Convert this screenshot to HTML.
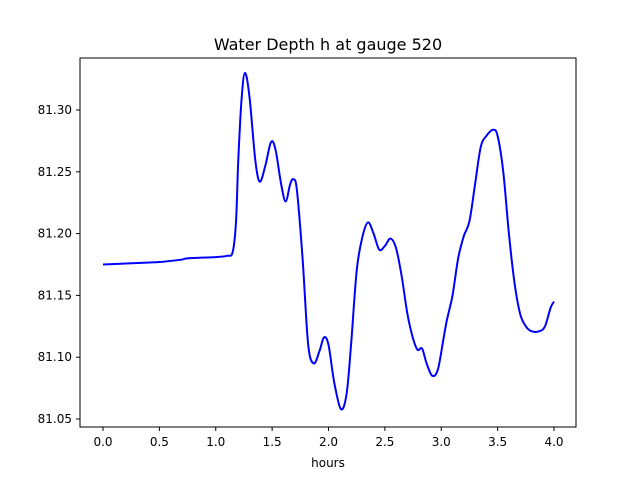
<!DOCTYPE html>
<html><head><meta charset="utf-8"><style>
body{margin:0;background:#fff;font-family:"DejaVu Sans","Liberation Sans",sans-serif;}
svg text{font-family:"DejaVu Sans","Liberation Sans",sans-serif;fill:#000;}
</style></head><body>
<svg id="chart" width="640" height="480">
<rect width="640" height="480" fill="#fff"/>
<text x="328" y="50" font-size="16" text-anchor="middle">Water Depth h at gauge 520</text>
<g id="xt"></g>
<g id="yt"></g>
<path id="line" fill="none" stroke="#0000ff" stroke-width="2"/>
<rect x="80" y="58" width="496" height="369" fill="none" stroke="#000" stroke-width="1"/>
<text x="328" y="467" font-size="12" text-anchor="middle">hours</text>
</svg>
<script>
const hours=[0.0,0.25,0.5,0.7,0.75,1.0,1.1,1.15,1.18,1.2,1.23,1.26,1.3,1.35,1.39,1.44,1.49,1.53,1.58,1.62,1.66,1.69,1.72,1.77,1.82,1.87,1.92,1.96,2.0,2.05,2.11,2.16,2.2,2.25,2.3,2.35,2.4,2.45,2.5,2.55,2.6,2.65,2.7,2.75,2.79,2.83,2.87,2.92,2.97,3.02,3.05,3.1,3.15,3.2,3.25,3.3,3.35,3.4,3.46,3.5,3.55,3.6,3.65,3.7,3.75,3.8,3.87,3.92,3.97,4.0];
const depth=[81.175,81.176,81.177,81.179,81.180,81.181,81.182,81.185,81.21,81.26,81.31,81.33,81.31,81.26,81.242,81.255,81.274,81.268,81.24,81.226,81.24,81.244,81.235,81.18,81.11,81.095,81.105,81.116,81.11,81.08,81.058,81.07,81.11,81.17,81.197,81.209,81.20,81.187,81.19,81.196,81.188,81.165,81.135,81.115,81.106,81.107,81.095,81.085,81.09,81.115,81.13,81.15,81.18,81.198,81.21,81.24,81.27,81.279,81.284,81.279,81.25,81.2,81.16,81.135,81.125,81.121,81.121,81.125,81.14,81.145];
const xTicks=[0,0.5,1,1.5,2,2.5,3,3.5,4];
const xTickLabels=["0.0","0.5","1.0","1.5","2.0","2.5","3.0","3.5","4.0"];
const yTicks=[81.05,81.10,81.15,81.20,81.25,81.30];
const yTickLabels=["81.05","81.10","81.15","81.20","81.25","81.30"];
const X=h=>103+h*112.75;
const Y=v=>419-(v-81.05)*1236;
const NS="http://www.w3.org/2000/svg";
const xt=document.getElementById('xt'),yt=document.getElementById('yt');
xTicks.forEach((t,i)=>{
 const l=document.createElementNS(NS,'line');
 
 
 l.setAttribute('x1',X(t));l.setAttribute('x2',X(t));l.setAttribute('y1',427);l.setAttribute('y2',431);l.setAttribute('stroke','#000');
 xt.appendChild(l);
 const tx=document.createElementNS(NS,'text');
 
 
 tx.setAttribute('x',X(t));tx.setAttribute('y',446);tx.setAttribute('font-size','12');tx.setAttribute('text-anchor','middle');
 tx.textContent=xTickLabels[i];xt.appendChild(tx);
});
yTicks.forEach((t,i)=>{
 const l=document.createElementNS(NS,'line');
 
 
 l.setAttribute('x1',76);l.setAttribute('x2',80);l.setAttribute('y1',Y(t));l.setAttribute('y2',Y(t));l.setAttribute('stroke','#000');
 yt.appendChild(l);
 const tx=document.createElementNS(NS,'text');
 
 
 tx.setAttribute('x',72);tx.setAttribute('y',Y(t)+4);tx.setAttribute('font-size','12');tx.setAttribute('text-anchor','end');
 tx.textContent=yTickLabels[i];yt.appendChild(tx);
});
const p=hours.map((h,i)=>[X(h),Y(depth[i])]);
let d='M'+p[0][0]+','+p[0][1];
for(let i=0;i<p.length-1;i++){
 const p0=p[Math.max(0,i-1)],p1=p[i],p2=p[i+1],p3=p[Math.min(p.length-1,i+2)];
 const c1=[p1[0]+(p2[0]-p0[0])/6,p1[1]+(p2[1]-p0[1])/6];
 const c2=[p2[0]-(p3[0]-p1[0])/6,p2[1]-(p3[1]-p1[1])/6];
 d+=' C'+c1+' '+c2+' '+p2;
}
document.getElementById('line').setAttribute('d',d);
</script>
</body></html>
